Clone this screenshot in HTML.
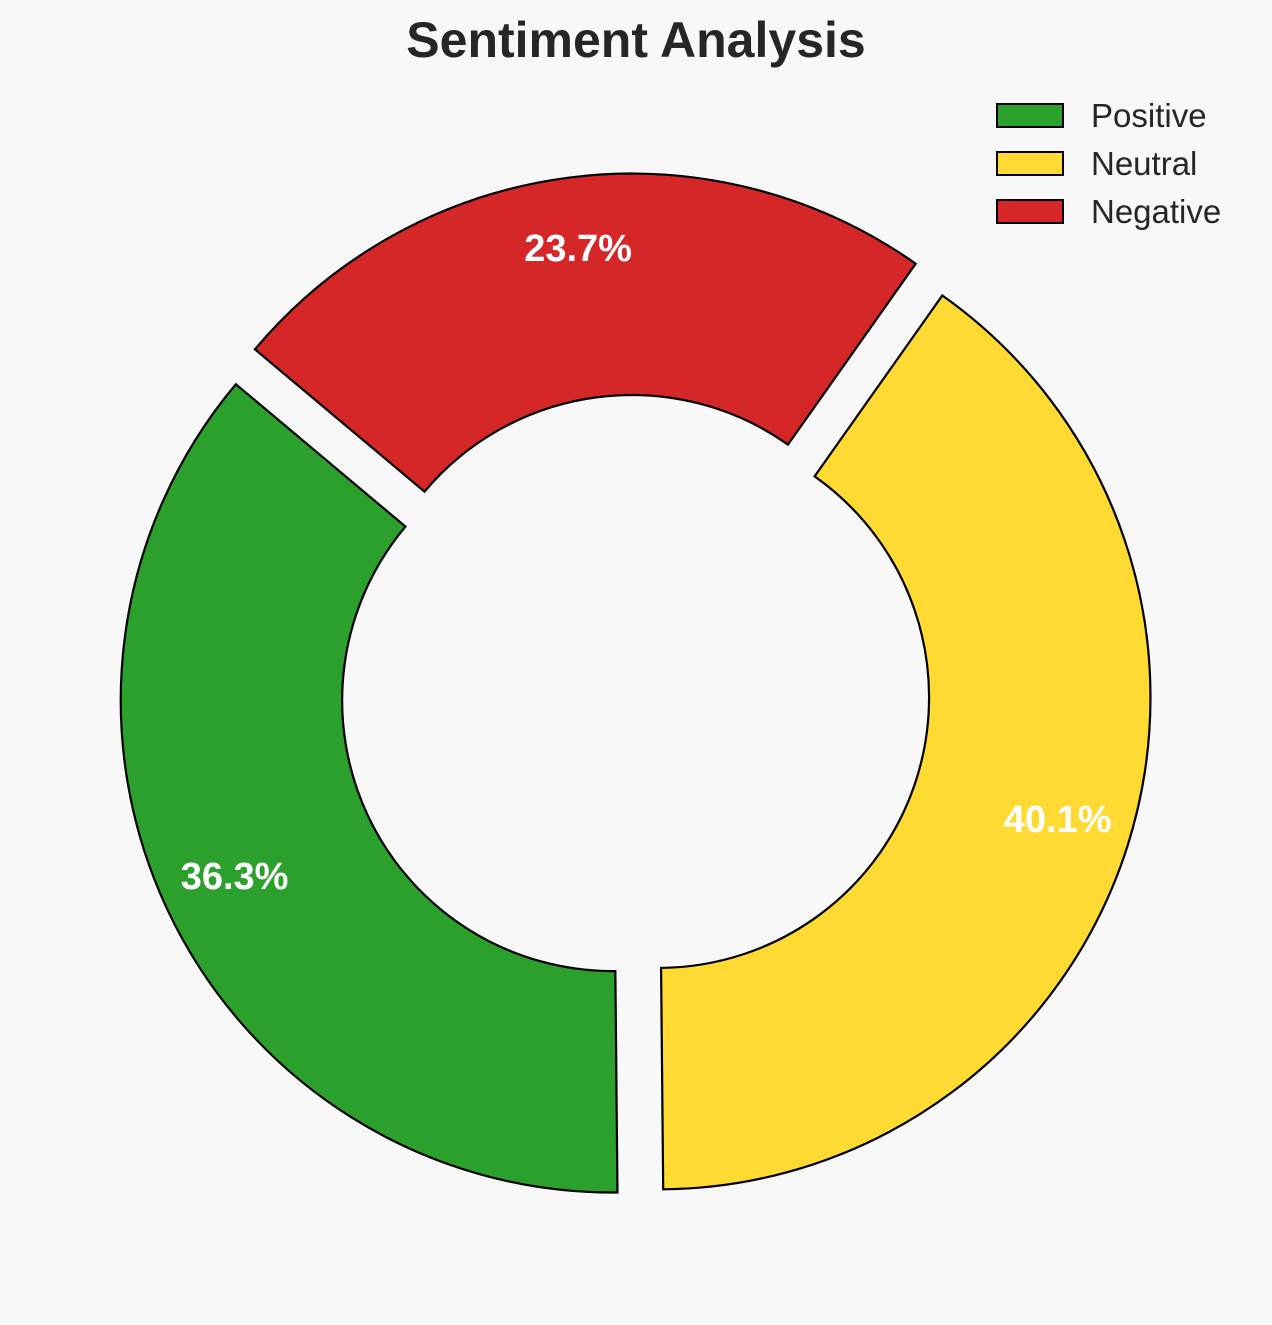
<!DOCTYPE html>
<html><head><meta charset="utf-8"><style>
body{margin:0;background:#f8f8f8;}
svg{display:block;}
</style></head><body>
<svg id="chart" width="1272" height="1325" xmlns="http://www.w3.org/2000/svg">
<rect width="1272" height="1325" fill="#f8f8f8"/>
<text x="636" y="57" text-anchor="middle" font-family="Liberation Sans, sans-serif" font-weight="bold" font-size="50" fill="#262626">Sentiment Analysis</text>
<g id="wedges"></g>
<g id="legend"></g>
</svg>
<script>
const categories = ["Positive", "Neutral", "Negative"];
const values = [36.3, 40.1, 23.7];
const colors = ["#2ca02c", "#ffda33", "#d62728"];
const startAngle = 140;
const explode = 0.05;

const cx = 635, cy = 690, R = 492, rIn = 0.55 * R, pctDist = 0.85;
const NS = "http://www.w3.org/2000/svg";
const g = document.getElementById('wedges');
const total = values.reduce((a, b) => a + b, 0);
function pt(x, y, r, deg) { const a = deg * Math.PI / 180; return [x + r * Math.cos(a), y - r * Math.sin(a)]; }
let ang = startAngle;
const labels = [];
values.forEach((v, i) => {
  const sweep = v / total * 360;
  const a0 = ang, a1 = ang + sweep, mid = (a0 + a1) / 2;
  const [ox, oy] = pt(cx, cy, explode * R, mid);
  const p1 = pt(ox, oy, R, a0), p2 = pt(ox, oy, R, a1), p3 = pt(ox, oy, rIn, a1), p4 = pt(ox, oy, rIn, a0);
  const large = sweep > 180 ? 1 : 0;
  const d = `M${p1[0]},${p1[1]} A${R},${R} 0 ${large} 0 ${p2[0]},${p2[1]} L${p3[0]},${p3[1]} A${rIn},${rIn} 0 ${large} 1 ${p4[0]},${p4[1]} Z`;
  const path = document.createElementNS(NS, 'path');
  path.setAttribute('d', d);
  path.setAttribute('fill', colors[i]);
  path.setAttribute('stroke', '#000');
  path.setAttribute('stroke-width', '2.2');
  
  
  g.appendChild(path);
  const [lx, ly] = pt(ox, oy, pctDist * R, mid);
  labels.push([lx, ly, v]);
  ang = a1;
});
labels.forEach((l, i) => {
  const t = document.createElementNS(NS, 'text');
  t.setAttribute('x', l[0]);
  t.setAttribute('y', l[1] + 10);
  t.setAttribute('text-anchor', 'middle');
  t.setAttribute('font-family', 'Liberation Sans, sans-serif');
  t.setAttribute('font-weight', 'bold');
  t.setAttribute('font-size', '38');
  t.setAttribute('fill', '#ffffff');
  t.textContent = l[2].toFixed(1) + '%';
  
  
  g.appendChild(t);
});
const lg = document.getElementById('legend');
categories.forEach((c, i) => {
  const y = 104 + i * 48;
  const r = document.createElementNS(NS, 'rect');
  r.setAttribute('x', 997); r.setAttribute('y', y);
  r.setAttribute('width', 66); r.setAttribute('height', 23);
  r.setAttribute('fill', colors[i]); r.setAttribute('stroke', '#000'); r.setAttribute('stroke-width', '2');
  
  
  lg.appendChild(r);
  const t = document.createElementNS(NS, 'text');
  t.setAttribute('x', 1091); t.setAttribute('y', y + 23);
  t.setAttribute('font-family', 'Liberation Sans, sans-serif');
  t.setAttribute('font-size', '33'); t.setAttribute('fill', '#262626');
  t.textContent = c;
  
  
  lg.appendChild(t);
});
</script>
</body></html>
